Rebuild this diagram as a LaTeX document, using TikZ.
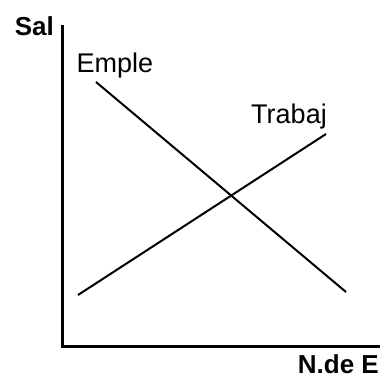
\documentclass[tikz,border=0pt]{standalone}
\usepackage{fontspec}
\setmainfont{Liberation Sans}
\begin{document}
\begin{tikzpicture}[x=1pt,y=-1pt,
  axis/.style={line width=3pt},
  curve/.style={line width=2pt},
  lbl/.style={inner sep=0pt,font=\fontsize{27}{30}\selectfont},
  blbl/.style={inner sep=0pt,font=\fontsize{26}{30}\selectfont\bfseries}]
\useasboundingbox (0,0) rectangle (380,378);
\coordinate (top) at (62,25);
\coordinate (orig) at (62,346);
\coordinate (xend) at (380,346);
\draw[axis] (top) -- (orig) -- (xend);
\node[blbl,anchor=east] (sal) at (54,26) {Sal};
\node[blbl,anchor=east] (nde) at (379,364) {N.de E};
\node[lbl] (emple) at (115,66) {Emple};
\node[lbl] (trabaj) at (289,117) {Trabaj};
\coordinate (e1) at (96,82);
\coordinate (e2) at (346,292);
\coordinate (t1) at (78,295);
\coordinate (t2) at (326,134);
\draw[curve] (e1) -- (e2);
\draw[curve] (t1) -- (t2);
\end{tikzpicture}
\end{document}
